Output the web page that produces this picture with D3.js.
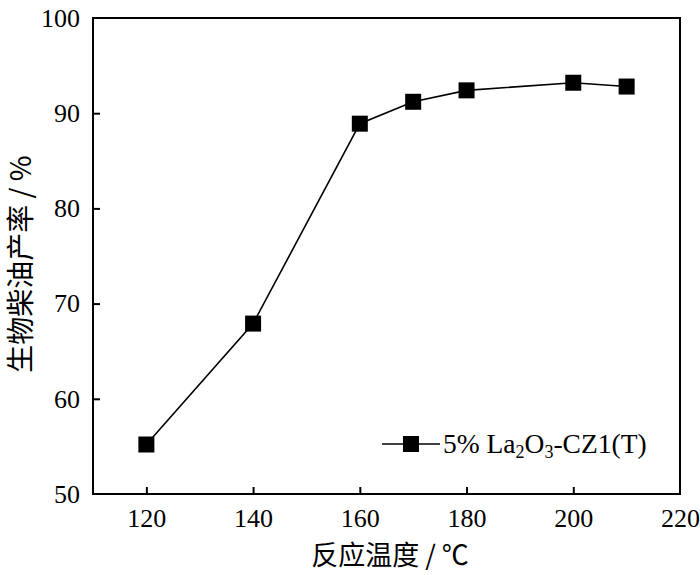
<!DOCTYPE html>
<html>
<head>
<meta charset="utf-8">
<script src="https://cdn.jsdelivr.net/npm/d3@7"></script>
<style>
  body { margin: 0; background: #fff; }
</style>
</head>
<body>
<div id="chart"></div>
<script>
const temps = [120, 140, 160, 170, 180, 200, 210];
const yields = [55.2, 67.9, 88.9, 91.2, 92.4, 93.2, 92.8];
const xTicks = [120, 140, 160, 180, 200, 220];
const yTicks = [50, 60, 70, 80, 90, 100];

const width = 700;
const height = 575;
const margin = { top: 18, right: 20, bottom: 81, left: 93 };
const chartWidth = width - margin.left - margin.right;
const chartHeight = height - margin.top - margin.bottom;

const svg = d3
  .select("#chart")
  .append("svg")
  .attr("width", width)
  .attr("height", height);

const g = svg
  .append("g")
  .attr("transform", `translate(${margin.left},${margin.top})`);

const x = d3.scaleLinear().domain([110, 220]).range([0, chartWidth]);
const y = d3.scaleLinear().domain([50, 100]).range([chartHeight, 0]);

// frame
g.append("rect")
  .attr("width", chartWidth)
  .attr("height", chartHeight)
  .attr("fill", "none")
  .attr("stroke", "#000")
  .attr("stroke-width", 2);

const xAxis = d3.axisBottom(x).tickValues(xTicks).tickSizeInner(-7).tickSizeOuter(0).tickPadding(15);
const yAxis = d3.axisLeft(y).tickValues(yTicks).tickSizeInner(-7).tickSizeOuter(0).tickPadding(13);

const xg = g.append("g").attr("transform", `translate(0,${chartHeight})`).call(xAxis);
const yg = g.append("g").call(yAxis);
[xg, yg].forEach((a) => {
  a.attr("font-family", null).attr("font-size", null);
  a.style("font-family", "'Liberation Serif', serif").style("font-size", "26px");
  a.select(".domain").remove();
  a.selectAll("line").attr("stroke", "#000").attr("stroke-width", 2);
  a.selectAll("text").attr("fill", "#000");
});
// hide ticks that coincide with the frame
xg.selectAll(".tick line").filter((d) => d === 220).remove();
yg.selectAll(".tick line").filter((d) => d === 50 || d === 100).remove();

// x label
svg.append("text")
  .attr("x", 390)
  .attr("y", 565)
  .attr("text-anchor", "middle")
  .style("font-family", "'Noto Sans CJK SC', sans-serif")
  .style("font-size", "27px")
  .text("反应温度 / ℃");

// y label
svg.append("text")
  .attr("transform", `translate(31,${margin.top + chartHeight / 2 + 8}) rotate(-90)`)
  .attr("text-anchor", "middle")
  .style("font-family", "'Noto Sans CJK SC', sans-serif")
  .style("font-size", "28px")
  .text("生物柴油产率 / %");

const data = temps.map((t, i) => ({ t, v: yields[i] }));

const line = d3.line().x((d) => x(d.t)).y((d) => y(d.v));

g.append("path")
  .datum(data)
  .attr("fill", "none")
  .attr("stroke", "#000")
  .attr("stroke-width", 1.6)
  .attr("d", line);

const sq = 16;
g.selectAll(".pt")
  .data(data)
  .join("rect")
  .attr("class", "pt")
  .attr("x", (d) => x(d.t) - sq / 2)
  .attr("y", (d) => y(d.v) - sq / 2)
  .attr("width", sq)
  .attr("height", sq)
  .attr("fill", "#000");

// legend
const lg = svg.append("g").attr("transform", "translate(382,444)");
lg.append("line").attr("x1", 0).attr("x2", 58).attr("y1", 0).attr("y2", 0)
  .attr("stroke", "#000").attr("stroke-width", 1.6);
lg.append("rect").attr("x", 29 - sq / 2).attr("y", -sq / 2).attr("width", sq).attr("height", sq).attr("fill", "#000");
const lt = lg.append("text")
  .attr("x", 61)
  .attr("y", 9)
  .style("font-family", "'Liberation Serif', serif")
  .style("font-size", "27.5px");
lt.append("tspan").text("5% La");
lt.append("tspan").attr("dy", 5).style("font-size", "18px").text("2");
lt.append("tspan").attr("dy", -5).text("O");
lt.append("tspan").attr("dy", 5).style("font-size", "18px").text("3");
lt.append("tspan").attr("dy", -5).text("-CZ1(T)");
</script>
</body>
</html>
